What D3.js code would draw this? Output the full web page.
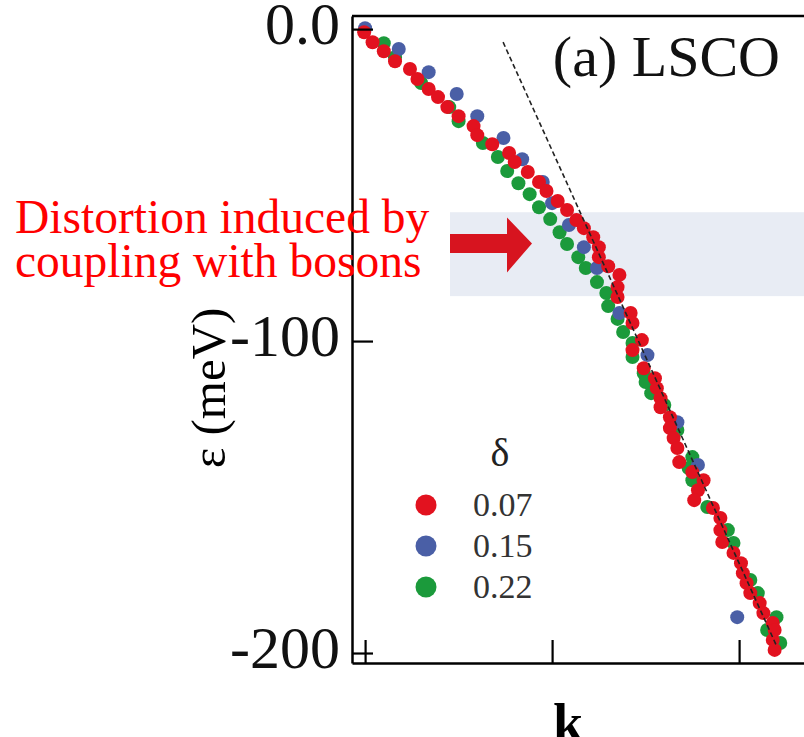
<!DOCTYPE html>
<html>
<head>
<meta charset="utf-8">
<script src="https://cdn.jsdelivr.net/npm/d3@7.9.0/dist/d3.min.js"></script>
<style>
  body { margin: 0; background: #fff; }
  svg { display: block; }
  text { font-family: "Liberation Serif", "Times New Roman", serif; }
</style>
</head>
<body>
<svg id="chart" width="804" height="737"></svg>
<script>
// k (arb. units), energy eps (meV)
const red_k = [-0.005, 0.04, 0.10, 0.16, 0.24, 0.28, 0.34, 0.39, 0.44, 0.50, 0.58, 0.60, 0.68, 0.77, 0.80, 0.87, 0.93, 0.97, 1.03, 1.08, 1.13, 1.17, 1.22, 1.25, 1.25, 1.30, 1.36, 1.35, 1.35, 1.42, 1.43, 1.48, 1.43, 1.49, 1.55, 1.56, 1.58, 1.58, 1.63, 1.63, 1.65, 1.67, 1.68, 1.75, 1.81, 1.78, 1.76, 1.86, 1.90, 1.90, 1.91, 1.97, 2.01, 2.02, 2.04, 2.06, 2.11, 2.13, 2.18, 2.19, 2.18, 2.19];
const red_e = [-1.0, -4.2, -7.1, -10.3, -12.8, -16.0, -19.2, -21.8, -25.0, -27.9, -31.1, -34.0, -36.9, -39.7, -42.6, -45.8, -49.0, -51.9, -55.1, -58.0, -61.2, -63.8, -66.7, -69.9, -73.1, -76.0, -78.8, -82.7, -85.9, -91.0, -94.2, -99.7, -102.9, -108.7, -111.9, -115.1, -118.3, -121.2, -124.4, -127.9, -131.1, -134.3, -138.8, -142.0, -144.6, -147.8, -151.0, -153.5, -156.7, -160.6, -164.4, -167.9, -171.2, -174.4, -177.6, -180.8, -184.0, -187.2, -190.4, -192.6, -195.8, -199.0];

const blue_k = [0.0, 0.18, 0.34, 0.49, 0.60, 0.74, 0.84, 0.95, 1.00, 1.09, 1.17, 1.24, 1.36, 1.51, 1.67, 1.78, 1.99];
const blue_e = [0.3, -6.4, -13.8, -20.8, -27.9, -34.9, -41.7, -49.0, -55.8, -62.8, -69.9, -76.6, -91.0, -104.5, -126.0, -139.7, -188.5];

const green_k = [0.10, 0.16, 0.30, 0.45, 0.50, 0.63, 0.71, 0.76, 0.82, 0.88, 0.93, 0.99, 1.04, 1.08, 1.14, 1.18, 1.24, 1.29, 1.30, 1.35, 1.38, 1.43, 1.43, 1.49, 1.50, 1.53, 1.60, 1.67, 1.75, 1.73, 1.75, 1.83, 1.94, 1.97, 2.06, 2.10, 2.20, 2.15, 2.22];
const green_e = [-4.5, -9.0, -17.3, -25.0, -29.5, -36.5, -41.0, -45.5, -49.4, -52.9, -57.1, -60.9, -65.1, -68.9, -73.1, -76.6, -81.1, -84.6, -88.8, -92.9, -97.1, -100.6, -105.1, -110.3, -113.1, -116.7, -120.5, -128.5, -137.2, -140.7, -144.6, -153.2, -160.6, -164.7, -176.6, -180.8, -188.5, -192.6, -196.8];

const legendLabels = ["0.07", "0.15", "0.22"];
const colorList = ["#e2121f", "#4a5fa6", "#1b9a3b"];
const yTicks = [0, -100, -200];
const yTickLabels = ["0.0", "-100", "-200"];
const xTicks = [0, 1, 2];
const bareLine = [[0.738, -4.2], [2.198, -197.4]];   // dashed bare-band line
const band = [-58.7, -85.6];                           // shaded energy window
const bandStartK = 0.454;
const noteLines = ["Distortion induced by", "coupling with bosons"];

const svg = d3.select('#chart');

let x = d3.scaleLinear().domain([-0.07, 2.5]).range([352, 832.6]);
let y = d3.scaleLinear().domain([4.2, -203.2]).range([16, 663]);

// shaded band
svg.append('rect')
    .attr('x', x(bandStartK))
    .attr('y', y(band[0]))
    .attr('width', 804 - x(bandStartK))
    .attr('height', y(band[1]) - y(band[0]))
    .attr('fill', '#e8ecf4');

// dots: green, blue, then red on top
const series = [
    { k: green_k, e: green_e, c: colorList[2] },
    { k: blue_k, e: blue_e, c: colorList[1] },
    { k: red_k, e: red_e, c: colorList[0] }
];
series.forEach(s => {
    svg.append('g').selectAll('circle')
        .data(d3.zip(s.k, s.e))
        .join('circle')
        .attr('cx', d => x(d[0]))
        .attr('cy', d => y(d[1]))
        .attr('r', 7)
        .attr('fill', s.c);
});

// dashed line
svg.append('path')
    .attr('d', d3.line().x(d => x(d[0])).y(d => y(d[1]))(bareLine))
    .attr('stroke', '#222')
    .attr('stroke-width', 1.6)
    .attr('stroke-dasharray', '5,3')
    .attr('fill', 'none');

// axes
let yAxis = d3.axisLeft(y)
    .tickValues(yTicks)
    .tickFormat((d, i) => yTickLabels[i])
    .tickSizeInner(-21)
    .tickSizeOuter(0)
    .tickPadding(12);
let yg = svg.append('g').attr('transform', 'translate(352,0)').call(yAxis);
yg.select('.domain').attr('stroke-width', 2.5);
yg.selectAll('.tick line').attr('stroke-width', 2.2);
yg.selectAll('.tick text')
    .attr('font-family', '"Liberation Serif", serif')
    .attr('font-size', 60)
    .attr('dy', '0.24em')
    .attr('fill', '#111');

let xAxis = d3.axisBottom(x)
    .tickValues(xTicks)
    .tickFormat('')
    .tickSizeInner(-23)
    .tickSizeOuter(0);
let xg = svg.append('g').attr('transform', 'translate(0,663)').call(xAxis);
xg.select('.domain').attr('stroke-width', 2.5);
xg.selectAll('.tick line').attr('stroke-width', 2.2);

// top frame line
svg.append('line')
    .attr('x1', 352).attr('x2', 804)
    .attr('y1', 16).attr('y2', 16)
    .attr('stroke', '#000').attr('stroke-width', 2.5);

// panel title
svg.append('text')
    .attr('x', 780).attr('y', 76)
    .attr('text-anchor', 'end')
    .attr('font-size', 58)
    .attr('fill', '#111')
    .text('(a) LSCO');

// axis labels
svg.append('text')
    .attr('transform', 'translate(225,388) rotate(-90)')
    .attr('text-anchor', 'middle')
    .attr('font-size', 49)
    .attr('fill', '#000')
    .text('ε (meV)');

svg.append('text')
    .attr('x', 568).attr('y', 741)
    .attr('text-anchor', 'middle')
    .attr('font-size', 54)
    .attr('font-weight', 'bold')
    .text('k');

// legend
svg.append('text')
    .attr('x', 500).attr('y', 466)
    .attr('text-anchor', 'middle')
    .attr('font-size', 40)
    .attr('fill', '#222')
    .text('δ');

let legend = svg.append('g');
legendLabels.forEach((lab, i) => {
    const ly = 505 + i * 41;
    legend.append('circle')
        .attr('cx', 426).attr('cy', ly).attr('r', 10.5)
        .attr('fill', colorList[i]);
    legend.append('text')
        .attr('x', 473).attr('y', ly + 11)
        .attr('font-size', 34)
        .attr('fill', '#333')
        .text(lab);
});

// annotation arrow + text
const ay = y(-68.7);
svg.append('path')
    .attr('d', `M450,${ay - 9.5} L507,${ay - 9.5} L507,${ay - 26} L532,${ay} L507,${ay + 29} L507,${ay + 9.5} L450,${ay + 9.5} Z`)
    .attr('fill', '#d7141f');

noteLines.forEach((t, i) => {
    svg.append('text')
        .attr('x', 15).attr('y', 233 + i * 44)
        .attr('font-size', 47.5)
        .attr('fill', '#ff0000')
        .text(t);
});
</script>
</body>
</html>
